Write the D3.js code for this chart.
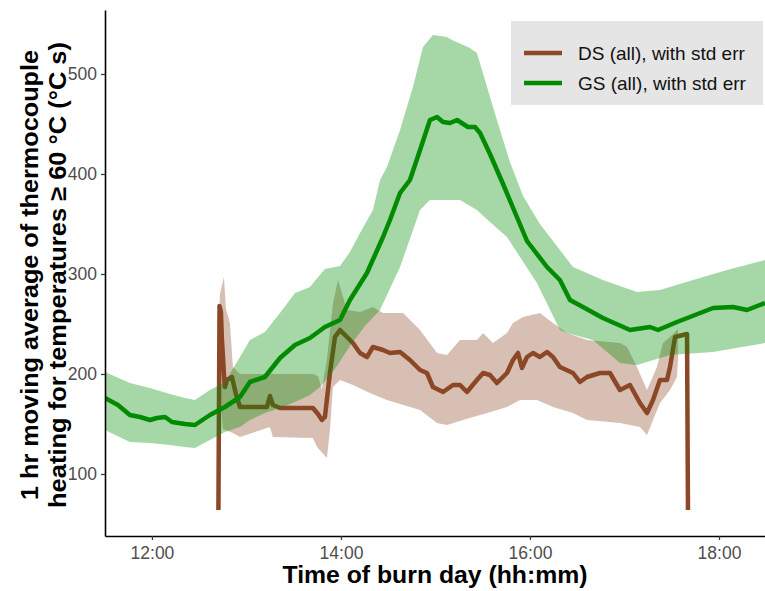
<!DOCTYPE html>
<html>
<head>
<meta charset="utf-8">
<script src="https://cdn.jsdelivr.net/npm/d3@7"></script>
<style>
  body { margin: 0; background: #fff; }
  svg { font-family: "Liberation Sans", Arial, sans-serif; display: block; }
</style>
</head>
<body>
<div id="chart"></div>
<script>
// times are minutes after midnight, values in °C s

// GS (all): mean line
const gsTime = [690.2, 698.4, 706.0, 712.4, 718.7, 723.2, 728.3, 732.7, 741.0, 747.3, 756.8, 766.3, 775.9, 782.2, 791.7, 801.3, 810.8, 820.3, 829.8, 839.4, 845.7, 856.5, 866.7, 871.1, 877.5, 883.8, 890.2, 896.5, 901.0, 904.8, 909.2, 913.7, 920.6, 925.1, 928.3, 934.6, 942.9, 951.7, 958.1, 970.8, 979.0, 985.4, 993.6, 1006.3, 1023.5, 1036.2, 1041.3, 1053.3, 1064.8, 1076.2, 1088.9, 1097.8, 1109.2];
const gsMean = [176, 169, 159, 157, 154, 156, 157, 152, 150, 149, 159, 167, 177, 192, 197, 216, 229, 236, 247, 254, 274, 301, 337, 354, 381, 394, 424, 454, 457, 452, 451, 454, 447, 447, 441, 420, 390, 357, 333, 307, 294, 274, 267, 256, 244, 247, 244, 252, 259, 266, 267, 264, 271];

// GS (all): std err band
const gsUpTime = [690.2, 706.0, 718.7, 731.4, 741.0, 747.3, 756.8, 766.3, 775.9, 782.2, 791.7, 801.3, 810.8, 820.3, 829.8, 839.4, 845.7, 852.1, 860.3, 864.8, 869.2, 873.0, 877.5, 885.7, 892.1, 898.4, 907.3, 910.5, 921.9, 926.3, 939.0, 947.3, 955.6, 966.3, 987.3, 1006.3, 1027.9, 1042.5, 1063.5, 1085.1, 1109.2];
const gsUpper = [202, 191, 186, 180, 176, 174, 184, 192, 217, 234, 242, 261, 281, 287, 305, 308, 322, 341, 364, 394, 407, 424, 444, 487, 527, 539, 537, 534, 526, 521, 454, 412, 378, 350, 307, 294, 282, 284, 294, 304, 314];
const gsLoTime = [690.2, 706.0, 718.7, 731.4, 741.0, 747.3, 756.8, 766.3, 775.9, 782.2, 791.7, 801.3, 810.8, 820.3, 826.7, 836.2, 845.7, 855.2, 864.8, 877.5, 890.2, 896.5, 915.6, 926.3, 934.6, 945.4, 964.4, 979.0, 983.5, 1000.0, 1017.1, 1027.9, 1048.9, 1076.2, 1109.2];
const gsLower = [144, 132, 131, 129, 127, 126, 134, 142, 147, 154, 161, 166, 172, 179, 187, 205, 228, 248, 264, 307, 364, 374, 374, 364, 352, 337, 291, 244, 241, 234, 211, 209, 219, 222, 231];

// DS (all): mean line
const dsTime = [762.2, 762.9, 763.8, 764.4, 765.1, 765.7, 766.3, 767.6, 770.8, 773.3, 775.9, 788.6, 793.0, 794.9, 796.8, 801.3, 822.2, 825.4, 827.9, 829.8, 833.0, 836.2, 839.4, 845.7, 847.6, 852.1, 856.5, 860.3, 866.7, 871.1, 877.5, 883.8, 890.2, 894.6, 898.4, 904.8, 911.1, 915.6, 920.0, 926.3, 930.2, 934.6, 939.0, 945.4, 949.2, 952.4, 954.9, 958.1, 961.9, 966.3, 970.8, 974.6, 979.0, 987.3, 991.7, 996.2, 1004.4, 1010.8, 1017.1, 1023.5, 1029.8, 1034.3, 1038.1, 1042.5, 1047.0, 1048.9, 1052.1, 1057.1, 1059.7, 1060.3];
const dsMean = [64, 268, 262, 235, 217, 200, 187, 194, 197, 180, 167, 167, 167, 178, 169, 166, 166, 160, 154, 157, 201, 237, 244, 234, 231, 221, 217, 227, 224, 221, 222, 214, 204, 201, 187, 182, 189, 189, 182, 194, 201, 199, 191, 201, 214, 221, 206, 217, 221, 217, 222, 217, 207, 201, 192, 197, 201, 201, 184, 189, 171, 161, 174, 194, 194, 207, 237, 239, 240, 64];

// DS (all): std err band
const dsUpTime = [762.5, 763.2, 765.7, 767.0, 769.5, 771.4, 775.9, 794.9, 822.2, 825.4, 827.9, 831.1, 834.9, 838.1, 843.8, 852.1, 860.3, 866.7, 879.4, 890.2, 901.0, 907.3, 915.6, 926.3, 930.2, 936.5, 945.4, 949.2, 955.6, 966.3, 974.6, 983.5, 996.2, 1017.1, 1021.6, 1027.9, 1034.3, 1040.6, 1044.4, 1048.9, 1054.0];
const dsUpper = [250, 280, 297, 265, 251, 207, 200, 200, 200, 198, 185, 215, 270, 294, 264, 262, 267, 261, 261, 244, 221, 219, 234, 234, 241, 231, 241, 251, 257, 261, 251, 241, 234, 231, 227, 207, 184, 207, 231, 237, 245];
const dsLoTime = [762.5, 763.8, 765.1, 771.4, 775.9, 794.9, 796.8, 822.2, 824.8, 831.1, 833.0, 834.9, 839.4, 847.6, 858.4, 869.2, 890.2, 901.0, 907.3, 917.5, 932.7, 945.4, 953.7, 964.4, 974.6, 987.3, 996.2, 1017.1, 1029.8, 1034.3, 1038.1, 1042.5, 1048.9, 1053.3, 1054.0];
const dsLower = [230, 170, 145, 141, 137, 147, 137, 136, 127, 116, 144, 187, 194, 189, 181, 174, 164, 151, 149, 154, 161, 167, 174, 174, 167, 161, 154, 151, 147, 139, 154, 171, 184, 197, 215];

const yTicks = [100, 200, 300, 400, 500];
const xTicks = [720, 840, 960, 1080];
const seriesNames = ["DS (all), with std err", "GS (all), with std err"];
const seriesColors = ["#8B4726", "#008B00"];

(function() {
const margin = { top: 10, right: 0, bottom: 55, left: 105 };
const width = 765 - margin.left - margin.right;
const height = 591 - margin.top - margin.bottom;

const root = d3.select("#chart")
  .append("svg")
  .attr("width", width + margin.left + margin.right)
  .attr("height", height + margin.top + margin.bottom);

const svg = root.append("g")
  .attr("transform", `translate(${margin.left},${margin.top})`);

// Scales
const x = d3.scaleLinear().domain([690.2, 1109.2]).range([0, width]);
const y = d3.scaleLinear().domain([38, 564]).range([height, 0]);

svg.append("clipPath").attr("id", "clip")
  .append("rect").attr("width", width).attr("height", height);

const plot = svg.append("g").attr("clip-path", "url(#clip)");

const line = d3.line().x(d => x(d[0])).y(d => y(d[1]));
const zip = (a, b) => a.map((t, i) => [t, b[i]]);

// band polygon: upper edge forward, lower edge back
function band(upT, up, loT, lo) {
  const pts = zip(upT, up).concat(zip(loT, lo).reverse());
  return line(pts) + "Z";
}

// DS ribbon + line
plot.append("path")
  .attr("d", band(dsUpTime, dsUpper, dsLoTime, dsLower))
  .attr("fill", seriesColors[0])
  .attr("fill-opacity", 0.35);
plot.append("path")
  .datum(zip(dsTime, dsMean))
  .attr("d", line)
  .attr("fill", "none")
  .attr("stroke", seriesColors[0])
  .attr("stroke-width", 4.5)
  .attr("stroke-linejoin", "round");

// GS ribbon + line
plot.append("path")
  .attr("d", band(gsUpTime, gsUpper, gsLoTime, gsLower))
  .attr("fill", seriesColors[1])
  .attr("fill-opacity", 0.35);
plot.append("path")
  .datum(zip(gsTime, gsMean))
  .attr("d", line)
  .attr("fill", "none")
  .attr("stroke", seriesColors[1])
  .attr("stroke-width", 4.5)
  .attr("stroke-linejoin", "round");

// Axes
const fmt = m => `${Math.floor(m / 60)}:${String(Math.round(m % 60)).padStart(2, "0")}`;
const xAxis = svg.append("g")
  .attr("transform", `translate(0,${height})`)
  .call(d3.axisBottom(x).tickValues(xTicks).tickFormat(fmt).tickSize(4).tickSizeOuter(0));
const yAxis = svg.append("g")
  .call(d3.axisLeft(y).tickValues(yTicks).tickSize(4).tickSizeOuter(0));

[xAxis, yAxis].forEach(a => {
  a.select(".domain").attr("stroke", "#000").attr("stroke-width", 1.6);
  a.selectAll(".tick line").attr("stroke", "#333").attr("stroke-width", 1.2);
  a.selectAll(".tick text").attr("fill", "#4d4d4d").style("font-size", "17.5px");
});
xAxis.selectAll(".tick text").attr("y", 6).attr("dy", "0.95em");
yAxis.selectAll(".tick text").attr("x", -8);

// Axis titles
root.append("text")
  .attr("x", 435)
  .attr("y", 583)
  .attr("text-anchor", "middle")
  .attr("textLength", 305)
  .attr("lengthAdjust", "spacingAndGlyphs")
  .style("font-size", "24px")
  .style("font-weight", "bold")
  .text("Time of burn day (hh:mm)");

const yTitle = root.append("g")
  .attr("transform", "translate(0,275) rotate(-90)");
yTitle.append("text")
  .attr("x", 0).attr("y", 38)
  .attr("text-anchor", "middle")
  .attr("textLength", 450)
  .attr("lengthAdjust", "spacingAndGlyphs")
  .style("font-size", "24px")
  .style("font-weight", "bold")
  .text("1 hr moving average of thermocouple");
yTitle.append("text")
  .attr("x", 0).attr("y", 66)
  .attr("text-anchor", "middle")
  .attr("textLength", 466)
  .attr("lengthAdjust", "spacingAndGlyphs")
  .style("font-size", "24px")
  .style("font-weight", "bold")
  .text("heating for temperatures \u2265 60 \u00B0C (\u00B0C s)");

// Legend
const legend = root.append("g").attr("transform", "translate(511,21)");
legend.append("rect")
  .attr("width", 252).attr("height", 84)
  .attr("fill", "#e5e5e5");
seriesNames.forEach((name, i) => {
  legend.append("line")
    .attr("x1", 13).attr("x2", 51)
    .attr("y1", 32 + i * 30).attr("y2", 32 + i * 30)
    .attr("stroke", seriesColors[i])
    .attr("stroke-width", 4.5);
  legend.append("text")
    .attr("x", 67).attr("y", 39 + i * 30)
    .attr("fill", "#111")
    .style("font-size", "19px")
    .text(name);
});
})();
</script>
</body>
</html>
